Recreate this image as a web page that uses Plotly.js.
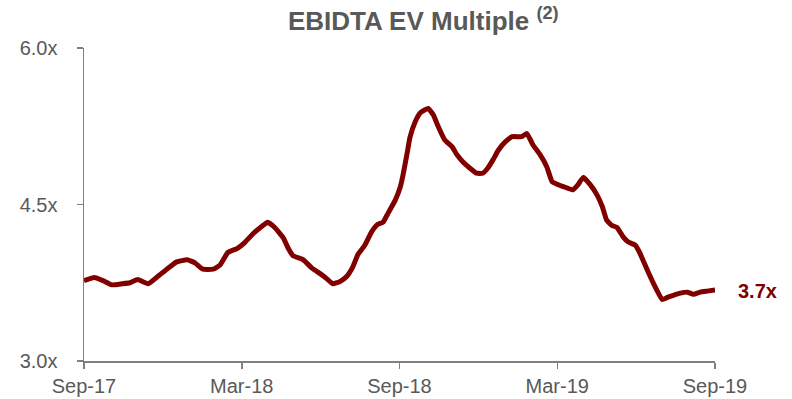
<!DOCTYPE html>
<html>
<head>
<meta charset="utf-8">
<script src="https://cdn.plot.ly/plotly-3.0.1.min.js"></script>
<style>html,body{margin:0;padding:0;background:#fff;}#chart{width:792px;height:399px;}</style>
</head>
<body>
<div id="chart"></div>
<script>
const dates = [
"2017-09-29","2017-10-11","2017-10-21","2017-10-31","2017-11-12","2017-11-21","2017-11-30","2017-12-12","2017-12-23",
"2018-01-04","2018-01-14","2018-01-26","2018-02-04","2018-02-13","2018-02-25","2018-03-05","2018-03-14","2018-03-25",
"2018-04-03","2018-04-12","2018-04-22","2018-04-29","2018-05-07","2018-05-17","2018-05-22","2018-05-28","2018-06-09",
"2018-06-19","2018-06-28","2018-07-06","2018-07-13","2018-07-21","2018-07-29","2018-08-05","2018-08-11","2018-08-19",
"2018-08-27","2018-09-03","2018-09-09","2018-09-15","2018-09-23","2018-09-29","2018-10-02","2018-10-07","2018-10-10",
"2018-10-16","2018-10-22","2018-10-31","2018-11-06","2018-11-11","2018-11-19","2018-11-28","2018-12-03","2018-12-10",
"2018-12-18","2018-12-26","2019-01-02","2019-01-08","2019-01-14","2019-01-20","2019-01-28","2019-02-05","2019-02-16",
"2019-02-22","2019-03-01","2019-03-09","2019-03-17","2019-03-23","2019-03-30","2019-04-09","2019-04-16","2019-04-22",
"2019-04-28","2019-05-06","2019-05-14","2019-05-20","2019-05-25","2019-05-31","2019-06-06","2019-06-13","2019-06-19",
"2019-06-27","2019-07-02","2019-07-11","2019-07-20","2019-07-28","2019-08-03","2019-08-10","2019-08-18","2019-08-26",
"2019-09-02","2019-09-10","2019-09-18","2019-09-27"
];
const multiple = [
3.77,3.80,3.77,3.73,3.74,3.75,3.78,3.74,3.81,
3.89,3.95,3.97,3.94,3.88,3.88,3.92,4.04,4.08,
4.14,4.22,4.29,4.33,4.28,4.18,4.09,4.01,3.97,
3.89,3.84,3.79,3.74,3.76,3.81,3.90,4.02,4.11,
4.24,4.31,4.33,4.42,4.54,4.67,4.78,5.00,5.14,
5.29,5.38,5.42,5.36,5.26,5.12,5.05,4.98,4.91,
4.85,4.80,4.80,4.85,4.93,5.02,5.10,5.15,5.15,
5.18,5.07,4.98,4.86,4.72,4.69,4.66,4.64,4.69,
4.76,4.69,4.59,4.48,4.35,4.30,4.28,4.19,4.14,
4.11,4.04,3.87,3.71,3.59,3.61,3.63,3.65,3.66,
3.64,3.66,3.67,3.68
];
const tickDates = ["2017-09-29","2018-03-30","2018-09-28","2019-03-29","2019-09-27"];
const tickLabels = ["Sep-17","Mar-18","Sep-18","Mar-19","Sep-19"];
const yTicks = [3.0, 4.5, 6.0];
const yTickLabels = ["3.0x","4.5x","6.0x"];
const lastLabel = "3.7x";
const chartTitle = "EBIDTA EV Multiple <sup>(2)</sup>";

const FONT = "Arial, 'Liberation Sans', sans-serif";
const GREY = "#595959";
const RED = "#800000";

const trace = {
  x: dates, y: multiple, type: "scatter", mode: "lines",
  line: {color: RED, width: 5, shape: "spline", smoothing: 0.4},
  hoverinfo: "skip"
};

const layout = {
  width: 792, height: 399,
  margin: {l: 84, r: 77, t: 48, b: 38, pad: 0},
  paper_bgcolor: "#fff", plot_bgcolor: "#fff",
  showlegend: false,
  font: {family: FONT, color: GREY, size: 20},
  title: {
    text: chartTitle,
    font: {family: FONT, size: 26, color: GREY, weight: "bold"},
    xref: "container", x: 0.3636, xanchor: "left",
    yref: "container", y: 0.947, yanchor: "middle"
  },
  xaxis: {
    type: "date",
    range: ["2017-09-29", "2019-09-27"],
    tickmode: "array", tickvals: tickDates, ticktext: tickLabels,
    showgrid: false, zeroline: false,
    showline: true, linecolor: "#808080", linewidth: 1.5,
    ticks: "outside", ticklen: 6, tickcolor: "#808080", tickwidth: 1.5,
    tickfont: {family: FONT, size: 20, color: GREY}
  },
  yaxis: {
    range: [3, 6],
    tickmode: "array", tickvals: yTicks, ticktext: yTickLabels,
    showgrid: false, zeroline: false,
    showline: true, linecolor: "#808080", linewidth: 1.5,
    ticks: "outside", ticklen: 6, tickcolor: "#808080", tickwidth: 1.5,
    ticklabelstandoff: 15,
    tickfont: {family: FONT, size: 20, color: GREY}
  },
  annotations: [{
    x: dates[dates.length - 1], y: multiple[multiple.length - 1],
    xref: "x", yref: "y",
    text: "<b>" + lastLabel + "</b>",
    showarrow: false, xanchor: "left", yanchor: "middle",
    xshift: 21, yshift: -1,
    font: {family: FONT, size: 20, color: RED}
  }]
};

Plotly.newPlot("chart", [trace], layout, {staticPlot: true, displayModeBar: false});
</script>
</body>
</html>
